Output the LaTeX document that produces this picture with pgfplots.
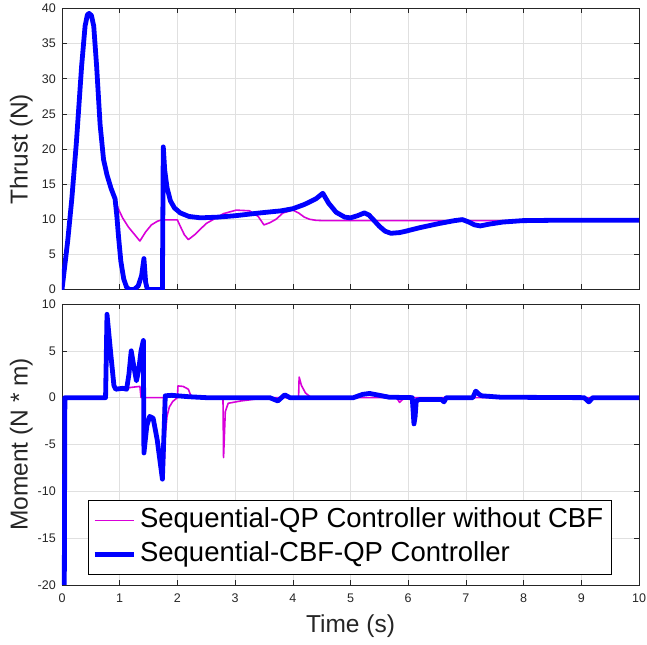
\documentclass[border=0pt]{standalone}
\usepackage{pgfplots}
\pgfplotsset{compat=1.18}
\usepackage{fontspec}
\setmainfont{Liberation Sans}
\definecolor{axgray}{rgb}{0.15,0.15,0.15}
\definecolor{gridgray}{rgb}{0.88,0.88,0.88}
\definecolor{mymag}{rgb}{0.85,0,0.85}

\pgfplotstableread{
t v
0.00 0
0.10 7
0.17 12.9
0.25 21
0.34 31.8
0.40 37.5
0.44 39.1
0.47 39.3
0.51 39.0
0.55 37.5
0.60 31.8
0.66 23.5
0.72 18.5
0.78 16.3
0.85 14.4
0.92 12.9
0.95 10.5
0.98 7.5
1.02 4
1.07 1.5
1.12 0.3
1.17 0
1.25 0
1.32 0.5
1.38 2
1.42 4.4
1.45 1
1.48 0
1.74 0
1.755 20.3
1.78 17
1.82 14.5
1.88 12.6
1.95 11.6
2.05 10.9
2.2 10.4
2.4 10.2
2.7 10.3
3.0 10.5
3.43 10.9
3.8 11.2
4.0 11.5
4.2 12.1
4.4 12.9
4.52 13.7
4.62 12.3
4.75 11.0
4.9 10.3
5.0 10.2
5.12 10.5
5.24 10.9
5.32 10.6
5.4 9.9
5.5 9.0
5.6 8.3
5.7 8.0
5.85 8.1
5.96 8.3
6.2 8.8
6.54 9.4
6.8 9.8
6.94 9.95
7.05 9.6
7.15 9.2
7.25 9.05
7.4 9.3
7.64 9.6
7.98 9.8
8.5 9.85
9.0 9.85
10 9.85
}\thrustcbf

\pgfplotstableread{
t v
0.00 0
0.10 7
0.17 12.9
0.25 21
0.34 31.8
0.40 37.5
0.44 39.1
0.47 39.3
0.51 39.0
0.55 37.5
0.60 31.8
0.66 23.5
0.72 18.5
0.78 16.3
0.85 14.4
0.92 12.9
0.97 11.6
1.05 10.2
1.15 8.9
1.25 7.9
1.35 6.9
1.45 8.2
1.55 9.2
1.65 9.7
1.72 9.9
2.0 9.9
2.05 9.0
2.12 7.8
2.19 7.1
2.3 7.8
2.4 8.6
2.5 9.4
2.65 10.1
2.8 10.8
3.02 11.3
3.25 11.2
3.40 10.4
3.45 9.8
3.5 9.2
3.6 9.5
3.71 10.0
3.83 10.9
4.0 11.3
4.1 10.9
4.2 10.3
4.29 10.0
4.4 9.85
4.52 9.8
10 9.8
}\thrustqp

\pgfplotstableread{
t v
0.04 -20
0.05 0
0.755 0
0.78 8.9
0.84 5
0.90 1.3
0.93 1.0
1.12 1.0
1.2 1.1
1.35 1.2
1.37 0
1.76 0
1.77 -7.4
1.79 -4
1.82 -2
1.86 -1.0
1.92 -0.4
1.98 -0.1
2.0 0
2.01 1.25
2.1 1.2
2.19 0.9
2.24 0.1
2.3 0
2.79 0
2.80 -6.4
2.83 -1.5
2.88 -0.6
3.1 -0.35
3.42 -0.1
3.6 0
4.10 0
4.11 2.2
4.15 1.3
4.22 0.5
4.3 0.1
4.36 0
5.8 0
5.85 -0.5
5.9 -0.2
6.0 0
10 0
}\momentqp

\pgfplotstableread{
t v
0.04 -20
0.05 0
0.755 0
0.78 8.9
0.84 5
0.90 1.3
0.93 0.9
1.05 1.0
1.12 0.9
1.16 2.5
1.2 5.0
1.24 3.5
1.29 1.8
1.33 3
1.37 5
1.41 6.1
1.42 -5.9
1.47 -3
1.52 -2.0
1.58 -2.2
1.65 -4.5
1.74 -8.7
1.79 0.2
1.9 0.25
2.2 0.1
2.5 0
3.6 0
3.74 -0.35
3.86 0.3
3.95 0
5.05 0
5.21 0.35
5.33 0.45
5.5 0.25
5.67 0.05
6.07 0
6.1 -2.8
6.12 -2.0
6.14 -0.3
6.2 -0.2
6.58 -0.2
6.62 -0.45
6.66 0
7.12 0
7.17 0.7
7.22 0.4
7.27 0.2
7.6 0.05
9.05 0
9.13 -0.45
9.2 0
10 0
}\momentcbf

\pgfplotsset{
  mystyle/.style={
    scale only axis,
    width=577bp, height=281bp,
    xmin=0, xmax=10,
    xtick={0,1,...,10},
    axis line style={axgray, line width=0.6bp},
    tick style={axgray, line width=0.6bp},
    major tick length=5bp,
    grid=major,
    major grid style={gridgray, line width=0.6bp},
    /pgf/number format/assume math mode=true,
    tick label style={font=\fontsize{12.5bp}{14bp}\selectfont, text=axgray},
    yticklabel style={inner sep=0pt, xshift=-6bp},
    xticklabel style={inner sep=0pt, yshift=-9bp},
    every axis y label/.style={at={(axis description cs:-0.0705,0.5)}, rotate=90, anchor=center,
      font=\fontsize{24.5bp}{28bp}\selectfont, text=axgray},
    every axis x label/.style={at={(axis description cs:0.5,-0.146)}, anchor=center,
      font=\fontsize{24.5bp}{28bp}\selectfont, text=axgray},
    clip=true,
    axis background/.style={fill=white},
  },
}

\begin{document}
\begin{tikzpicture}
\useasboundingbox (0,0) rectangle (647bp,645bp);
\begin{axis}[mystyle,
  at={(62bp,355.5bp)}, anchor=south west,
  ymin=0, ymax=40, ytick={0,5,...,40},
  xticklabels={},
  ylabel={Thrust (N)},
]
\addplot[mymag, line width=1.6bp, line join=round] table[x=t,y=v] {\thrustqp};
\addplot[blue, line width=4.8bp, line join=round, line cap=round] table[x=t,y=v] {\thrustcbf};
\end{axis}
\begin{axis}[mystyle,
  at={(62bp,60bp)}, anchor=south west,
  ymin=-20, ymax=10, ytick={-20,-15,...,10},
  ylabel={Moment (N * m)},
  xlabel={Time (s)},
  legend style={at={(0.045,0.036)}, anchor=south west, draw=black, line width=0.6bp,
    fill=white, font=\fontsize{27.5bp}{30bp}\selectfont, inner xsep=4bp, inner ysep=3bp,
    row sep=0bp,
    nodes={inner sep=4bp, text height=20bp, text depth=6bp}},
  legend cell align=left,
  legend image code/.code={\draw[#1, line cap=butt] (0bp,0bp) -- (39bp,0bp);},
]
\addplot[mymag, line width=1.6bp, line join=round] table[x=t,y=v] {\momentqp};
\addlegendentry{Sequential-QP Controller without CBF}
\addplot[blue, line width=4.8bp, line join=round, line cap=round] table[x=t,y=v] {\momentcbf};
\addlegendentry{Sequential-CBF-QP Controller}
\end{axis}
\end{tikzpicture}
\end{document}
